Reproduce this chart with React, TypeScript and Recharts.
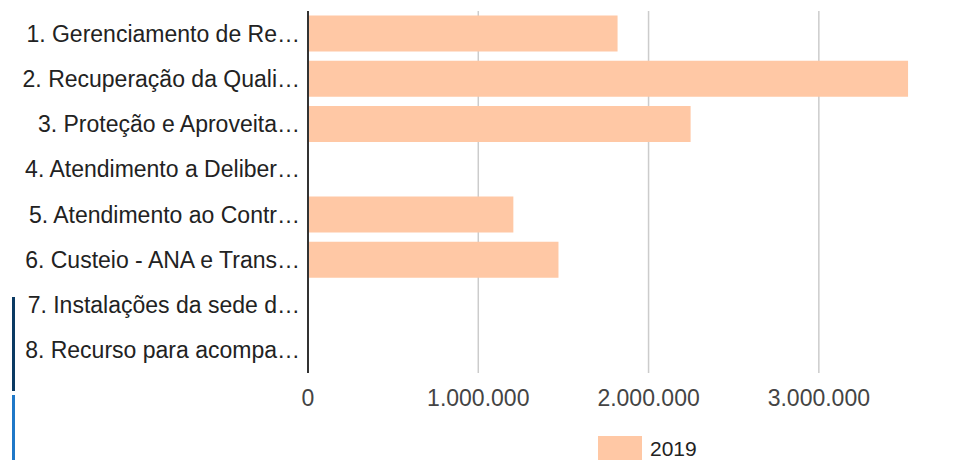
import { Bar, BarChart, CartesianGrid, Legend, XAxis, YAxis } from "recharts";

const categories = [
  "1. Gerenciamento de Re…",
  "2. Recuperação da Quali…",
  "3. Proteção e Aproveita…",
  "4. Atendimento a Deliber…",
  "5. Atendimento ao Contr…",
  "6. Custeio - ANA e Trans…",
  "7. Instalações da sede d…",
  "8. Recurso para acompa…",
];
const values2019 = [1818000, 3524000, 2247000, 0, 1206000, 1471000, 0, 0];
const xTicks = [0, 1000000, 2000000, 3000000];
const gridValues = [1000000, 2000000, 3000000];
const seriesName = "2019";

const data = categories.map((name, i) => ({ name, v2019: values2019[i] }));

const FONT = "'Liberation Sans', Arial, sans-serif";

const fmt = (n: number) => String(n).replace(/\B(?=(\d{3})+(?!\d))/g, ".");

const YTick = (props) => {
  const { x, y, payload } = props;
  return (
    <text x={x} y={y} dy="0.35em" textAnchor="end" fill="#222" fontSize={23} fontFamily={FONT}>
      {payload.value}
    </text>
  );
};

const XTick = (props) => {
  const { x, y, payload } = props;
  return (
    <text x={x} y={y} dy="0.71em" textAnchor="middle" fill="#444" fontSize={23} fontFamily={FONT}>
      {fmt(payload.value)}
    </text>
  );
};

const renderLegend = () => (
  <div style={{ display: "flex", alignItems: "center", fontFamily: FONT, fontSize: 21, color: "#222" }}>
    <span style={{ display: "inline-block", width: 44, height: 26, background: "#ffc8a5", marginRight: 8 }} />
    <span>{seriesName}</span>
  </div>
);

export default function App() {
  return (
    <div style={{ position: "absolute", left: 0, top: 0, width: 975, height: 460, overflow: "hidden", background: "#fff" }}>
      <style>{`body{margin:0}`}</style>
      <BarChart
        width={975}
        height={460}
        data={data}
        layout="vertical"
        margin={{ top: 11, right: 54, bottom: 47, left: 0 }}
        barCategoryGap="10%"
      >
        <CartesianGrid horizontal={false} vertical verticalValues={gridValues} stroke="#ccc" strokeWidth={1.5} />
        <XAxis
          type="number"
          domain={[0, 3600000]}
          ticks={xTicks}
          axisLine={false}
          tickLine={false}
          height={40}
          tickMargin={11}
          tick={<XTick />}
        />
        <YAxis
          type="category"
          dataKey="name"
          width={308}
          axisLine={{ stroke: "#333", strokeWidth: 2 }}
          tickLine={false}
          tick={<YTick />}
        />
        <Legend
          layout="vertical"
          align="center"
          verticalAlign="middle"
          wrapperStyle={{ top: 436, left: 598, width: "auto" }}
          content={renderLegend}
        />
        <Bar dataKey="v2019" name={seriesName} fill="#ffc8a5" isAnimationActive={false} />
      </BarChart>
      <div style={{ position: "absolute", left: 12, top: 297, width: 3, height: 94, background: "#0b3a63" }} />
      <div style={{ position: "absolute", left: 12, top: 395, width: 3, height: 65, background: "#1f78c8" }} />
    </div>
  );
}
